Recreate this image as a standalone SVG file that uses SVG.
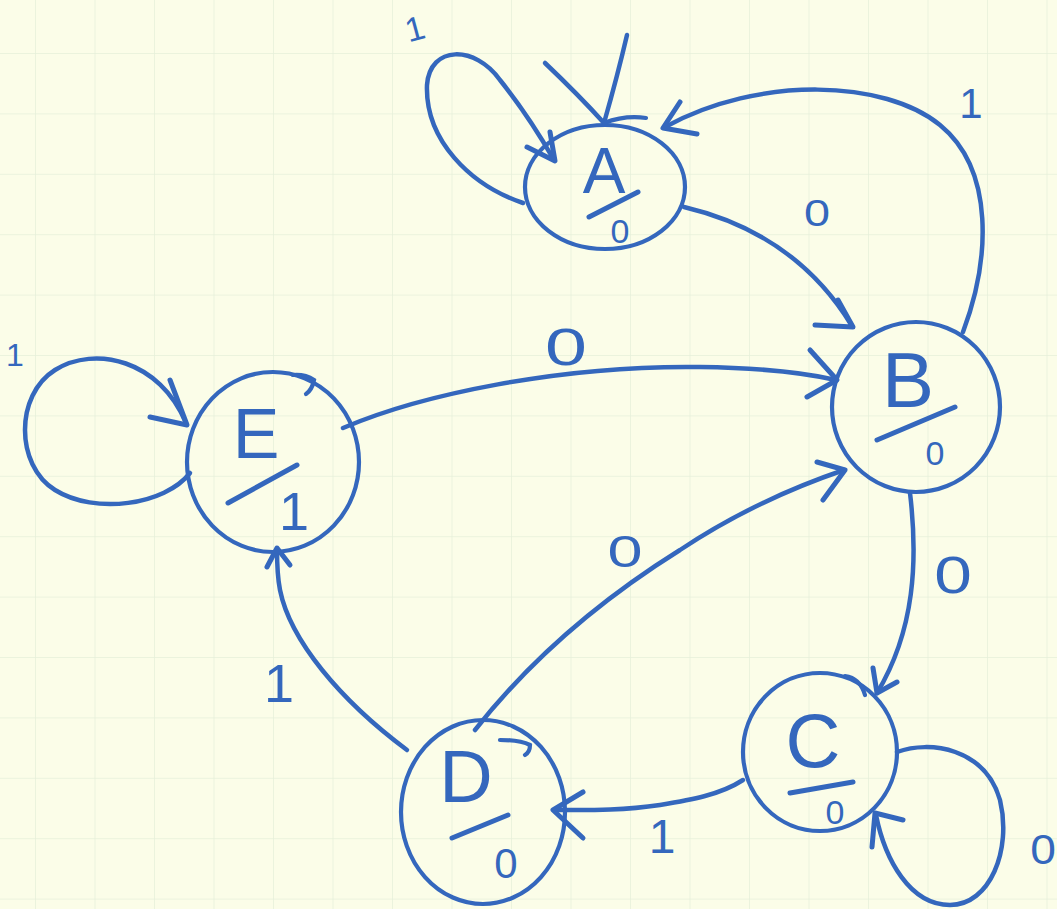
<svg xmlns="http://www.w3.org/2000/svg" width="1057" height="909" viewBox="0 0 1057 909">
  <defs>
    <!-- graph-paper grid -->
    <pattern id="grid" x="35" y="53" width="59.5" height="60.4" patternUnits="userSpaceOnUse">
      <path d="M0,0 V60.4 M0,0 H59.5" fill="none" stroke="#e6efda" stroke-width="1.5"/>
    </pattern>
    <style>
      .ink { fill: none; stroke: #3467bd; stroke-width: 4.5; stroke-linecap: round; stroke-linejoin: round; }
      .ring { fill: none; stroke: #3467bd; stroke-width: 4.2; stroke-linecap: round; }
      .head { fill: none; stroke: #3467bd; stroke-width: 5; stroke-linecap: round; stroke-linejoin: round; }
      .bar { fill: none; stroke: #3467bd; stroke-width: 5; stroke-linecap: round; }
      text { font-family: "Liberation Sans", Arial, sans-serif; fill: #3467bd; text-anchor: middle; }
      .name { font-size: 70px; }
      .out { font-size: 34px; }
      .lbl { font-size: 44px; }
    </style>
  </defs>

  <!-- paper -->
  <rect width="1057" height="909" fill="#fbfde8"/>
  <rect width="1057" height="909" fill="url(#grid)"/>

  <!-- transitions -->
  <g id="connectors">
    <!-- start arrow into A -->
    <path class="ink" d="M627,35 C620,65 612,95 604,123"/>
    <path class="ink" d="M545,63 C565,82 585,102 604,123"/>

    <!-- A self loop, input 1 -->
    <path class="ink" d="M523,203 C470,185 425,140 427,85 C430,45 475,45 500,80 C520,105 538,132 554,160"/>
    <path class="head" d="M527,147 L555,161 L550,132"/>
    <text class="lbl" transform="translate(418,40) rotate(-15)" style="font-size:34px">1</text>

    <!-- A to B, input 0 -->
    <path class="ink" d="M684,207 C760,225 815,265 852,326"/>
    <path class="head" d="M815,325 L853,327 L838,300"/>
    <text class="lbl" transform="translate(817,226) scale(1.3,1)" style="font-size:36px">0</text>

    <!-- B to A, input 1 -->
    <path class="ink" d="M963,332 C990,260 995,170 940,125 C885,80 760,75 665,127"/>
    <path class="head" d="M680,102 L663,128 L697,134"/>
    <text class="lbl" x="971" y="118" style="font-size:42px">1</text>

    <!-- E to B, input 0 -->
    <path class="ink" d="M343,428 C420,395 560,365 700,367 C770,368 810,374 836,380"/>
    <path class="head" d="M810,350 L837,380 L807,397"/>
    <text class="lbl" transform="translate(566,365) scale(1.45,1)" style="font-size:52px">0</text>

    <!-- D to B, input 0 -->
    <path class="ink" d="M475,730 C530,660 600,600 680,550 C740,510 800,485 844,470"/>
    <path class="head" d="M817,462 L845,470 L823,500"/>
    <text class="lbl" transform="translate(625,567) scale(1.4,1)" style="font-size:45px">0</text>

    <!-- B to C, input 0 -->
    <path class="ink" d="M910,493 C918,560 915,630 877,693"/>
    <path class="head" d="M873,668 L877,693 L897,682"/>
    <text class="lbl" transform="translate(953,593) scale(1.3,1)" style="font-size:52px">0</text>

    <!-- C to D, input 1 -->
    <path class="ink" d="M743,780 C720,795 690,800 660,805 C620,811 585,810 554,810"/>
    <path class="head" d="M583,792 L553,810 L583,838"/>
    <text class="lbl" x="662" y="853" style="font-size:48px">1</text>

    <!-- C self loop, input 0 -->
    <path class="ink" d="M897,752 C930,740 985,748 1000,800 C1012,850 990,905 950,905 C910,905 885,860 876,815"/>
    <path class="head" d="M872,847 L875,813 L903,820"/>
    <text class="lbl" transform="translate(1043,864) scale(1.1,1)" style="font-size:42px">0</text>

    <!-- D to E, input 1 -->
    <path class="ink" d="M407,750 C340,700 290,640 280,590 C277,575 277,562 277,549"/>
    <path class="head" d="M267,567 L277,548 L290,565"/>
    <text class="lbl" x="279" y="702" style="font-size:54px">1</text>

    <!-- E self loop, input 1 -->
    <path class="ink" d="M190,473 C165,505 95,515 55,490 C15,465 15,395 55,370 C95,345 160,360 186,423"/>
    <path class="head" d="M150,417 L187,425 L170,380"/>
    <text class="lbl" x="15" y="366" style="font-size:32px">1</text>
  </g>

  <!-- states: name over output -->
  <g id="state-A">
    <ellipse class="ring" cx="605" cy="187" rx="80" ry="62"/>
    <path class="ring" d="M604,123 Q625,115 646,118"/>
    <text class="name" x="604" y="193" style="font-size:64px">A</text>
    <path class="bar" d="M589,217 L638,192"/>
    <text class="out" x="620" y="243">0</text>
  </g>

  <g id="state-B">
    <ellipse class="ring" cx="916" cy="407" rx="84" ry="85"/>
    <text class="name" x="908" y="407" style="font-size:78px">B</text>
    <path class="bar" d="M877,440 L955,407"/>
    <text class="out" x="935" y="465">0</text>
  </g>

  <g id="state-E">
    <ellipse class="ring" cx="273" cy="462" rx="86" ry="90"/>
    <path class="ring" d="M293,375 Q305,374 314,380 Q312,390 306,394"/>
    <text class="name" x="256" y="458">E</text>
    <path class="bar" d="M228,503 L297,465"/>
    <text class="lbl" x="294" y="530" style="font-size:54px">1</text>
  </g>

  <g id="state-D">
    <ellipse class="ring" cx="483" cy="812" rx="82" ry="92"/>
    <path class="ring" d="M500,740 Q520,740 530,745 Q530,752 525,755"/>
    <text class="name" x="466" y="802" style="font-size:74px">D</text>
    <path class="bar" d="M452,838 L508,815"/>
    <text class="out" x="506" y="878" style="font-size:42px">0</text>
  </g>

  <g id="state-C">
    <ellipse class="ring" cx="820" cy="752" rx="77" ry="79"/>
    <path class="ring" d="M845,676 Q860,678 865,695"/>
    <text class="name" x="813" y="767" style="font-size:76px">C</text>
    <path class="bar" d="M790,793 L853,782"/>
    <text class="out" x="835" y="824">0</text>
  </g>
</svg>
